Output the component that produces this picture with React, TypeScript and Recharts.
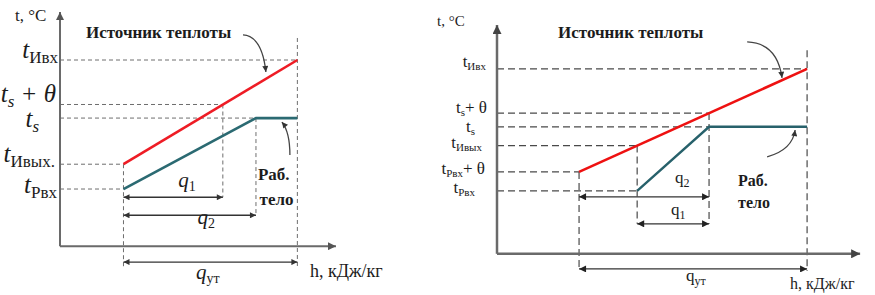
import React from "react";
import { ComposedChart, Line, XAxis, YAxis, ReferenceLine, ReferenceDot } from "recharts";

const SERIF = "Liberation Serif, DejaVu Serif, serif";
const INK = "#1c1c1c";

// left diagram: h and t in arbitrary units, axis length = 100
const leftSourceH = [23, 86];
const leftSourceT = [35, 79.5];
const leftBodyH = [23, 71, 86];
const leftBodyT = [24.4, 54.7, 54.7];
const leftTicks = [79.5, 60.5, 54.7, 35, 24.4];
const leftTickLabels = [
  ["t", "Ивх", ""],
  ["t", "s", " + θ"],
  ["t", "s", ""],
  ["t", "Ивых.", ""],
  ["t", "Рвх", ""],
];
const leftQ1 = [23, 59];
const leftQ2 = [23, 71];
const leftQut = [23, 86];
const leftQLevels = [20.9, 13.2, -6.8];

// right diagram
const rightSourceH = [22.6, 85.4];
const rightSourceT = [35.8, 80.8];
const rightBodyH = [38.6, 58.4, 85.4];
const rightBodyT = [27.5, 55.5, 55.5];
const rightTicks = [80.8, 61.5, 55.5, 47.3, 35.8, 27.5];
const rightTickLabels = [
  ["t", "Ивх", ""],
  ["t", "s", "+ θ"],
  ["t", "s", ""],
  ["t", "Ивых", ""],
  ["t", "Рвх", "+ θ"],
  ["t", "Рвх", ""],
];
const rightQ2 = [22.6, 58.4];
const rightQ1 = [38.6, 58.4];
const rightQut = [22.6, 85.4];
const rightQLevels = [24.9, 13.1, -6.6];

const toPts = (hs: number[], ts: number[]) => hs.map((h, i) => ({ h, t: ts[i] }));

const leftTickNudge = [[-2, -2], [-4, -2], [-21, 9], [-5, -2], [-3, 4]];
const rightTickNudge = [[-11, -2], [-10, 0], [-22, 5], [-15, 2], [-12, 2], [-22, 2]];

const serif = (size: number, italic = false, bold = false) => ({
  fontFamily: SERIF,
  fontSize: size,
  fontStyle: italic ? "italic" : "normal",
  fontWeight: bold ? 700 : 400,
});

const makeTick = (ticks: number[], labels: string[][], nudge: number[][], big: number, small: number, italic: boolean, shift: number) =>
  (props: any) => {
    const i = ticks.indexOf(props.payload.value);
    if (i < 0) return null;
    const [main, sub, tail] = labels[i];
    const [dx, dy] = nudge[i];
    return (
      <text x={props.x + dx} y={props.y + dy} textAnchor="end" fill={INK} style={serif(big, italic)}>
        <tspan style={serif(big, italic)}>{main}</tspan>
        <tspan dy={shift} style={serif(small, italic && sub === "s")}>{sub}</tspan>
        {tail ? <tspan dy={-shift} style={serif(big, italic)}>{tail}</tspan> : null}
      </text>
    );
  };

const note = (key: string, x: number, y: number, draw: (cx: number, cy: number) => any) => (
  <ReferenceDot key={key} x={x} y={y} r={0} ifOverflow="visible" shape={(p: any) => draw(p.cx, p.cy)} />
);

const seg = (key: string, x1: number, y1: number, x2: number, y2: number, draw: (p: any) => any) => (
  <ReferenceLine key={key} segment={[{ x: x1, y: y1 }, { x: x2, y: y2 }]} ifOverflow="visible" shape={draw} />
);

const dashed = (key: string, x1: number, y1: number, x2: number, y2: number, color: string, dash: string, w: number) =>
  seg(key, x1, y1, x2, y2, (p: any) => (
    <line x1={p.x1} y1={p.y1} x2={p.x2} y2={p.y2} stroke={color} strokeWidth={w} strokeDasharray={dash} />
  ));

const dim = (key: string, x1: number, x2: number, y: number, color: string, marker: string) =>
  seg(key, x1, y, x2, y, (p: any) => (
    <line x1={p.x1} y1={p.y1} x2={p.x2} y2={p.y2} stroke={color} strokeWidth={1.3}
      markerStart={`url(#${marker})`} markerEnd={`url(#${marker})`} />
  ));

const axisArrow = (key: string, x2: number, y2: number, color: string, w: number, marker: string) =>
  seg(key, 0, 0, x2, y2, (p: any) => (
    <line x1={p.x1} y1={p.y1} x2={p.x2} y2={p.y2} stroke={color} strokeWidth={w} markerEnd={`url(#${marker})`} />
  ));

const curve = (key: string, x1: number, y1: number, x2: number, y2: number, kx: number, ky: number) =>
  seg(key, x1, y1, x2, y2, (p: any) => {
    const cx = p.x1 + kx * (p.x2 - p.x1);
    const cy = p.y1 + ky * (p.y2 - p.y1);
    return (
      <path d={`M${p.x1},${p.y1} Q${cx},${cy} ${p.x2},${p.y2}`} fill="none" stroke="#444" strokeWidth={1.3}
        markerEnd="url(#ahCurve)" />
    );
  });

const plain = (text: string, size: number, bold = false) => (cx: number, cy: number) => (
  <text x={cx} y={cy} fill={INK} style={serif(size, false, bold)}>
    {text}
  </text>
);

const qLabel = (sub: string, big: number, small: number, italic: boolean) => (cx: number, cy: number) => (
  <text x={cx} y={cy} textAnchor="middle" fill={INK} style={serif(big, italic)}>
    <tspan style={serif(big, italic)}>q</tspan>
    <tspan dy={4} style={serif(small)}>{sub}</tspan>
  </text>
);

function LeftDiagram() {
  const red = "#ee1c25";
  const teal = "#2b6a72";
  const guide = "#6e6e6e";
  const dash = "4 3";
  const [tIn, tsTheta, ts, tOut, tP] = leftTicks;
  return (
    <ComposedChart width={405} height={295} margin={{ top: 12, right: 0, bottom: 2, left: 0 }}>
      <XAxis type="number" dataKey="h" domain={[0, 125]} hide allowDataOverflow />
      <YAxis type="number" domain={[-20, 100]} ticks={leftTicks} interval={0} width={60} axisLine={false}
        tickLine={false} tickSize={0} tickMargin={0} allowDataOverflow
        tick={makeTick(leftTicks, leftTickLabels, leftTickNudge, 25, 17, true, 5)} />
      {dashed("g1", 0, tIn, leftSourceH[1], tIn, guide, dash, 1)}
      {dashed("g2", 0, tsTheta, leftQ1[1], tsTheta, guide, dash, 1)}
      {dashed("g3", 0, ts, leftBodyH[1], ts, guide, dash, 1)}
      {dashed("g4", 0, tOut, leftSourceH[0], tOut, guide, dash, 1)}
      {dashed("g5", 0, tP, leftBodyH[0], tP, guide, dash, 1)}
      {dashed("v1", leftSourceH[0], tOut, leftSourceH[0], -9.4, guide, dash, 1)}
      {dashed("v2", leftQ1[1], tsTheta, leftQ1[1], leftQLevels[0], guide, dash, 1)}
      {dashed("v3", leftQ2[1], ts, leftQ2[1], leftQLevels[1], guide, dash, 1)}
      {dashed("v4", leftSourceH[1], 88.9, leftSourceH[1], -9.4, guide, dash, 1)}
      {axisArrow("ax", 100, 0, "#6a6a6a", 2, "ahAxisL")}
      {axisArrow("ay", 0, 100, "#6a6a6a", 2, "ahAxisL")}
      {dim("q1", leftQ1[0], leftQ1[1], leftQLevels[0], "#333", "ahDimL")}
      {dim("q2", leftQ2[0], leftQ2[1], leftQLevels[1], "#333", "ahDimL")}
      {dim("qut", leftQut[0], leftQut[1], leftQLevels[2], "#333", "ahDimL")}
      <Line data={toPts(leftSourceH, leftSourceT)} dataKey="t" stroke={red} strokeWidth={2.6} dot={false}
        activeDot={false} isAnimationActive={false} />
      <Line data={toPts(leftBodyH, leftBodyT)} dataKey="t" stroke={teal} strokeWidth={2.6} dot={false}
        activeDot={false} isAnimationActive={false} />
      {curve("c1", 66.3, 90.2, 74.6, 74.4, 0.83, 0.03)}
      {curve("c2", 83.3, 38.9, 80.4, 53, 0, 0.7)}
      {note("tC", -16.3, 96.2, plain("t, °C", 17))}
      {note("src", 9.4, 88.9, plain("Источник теплоты", 17, true))}
      {note("rab", 71.7, 28.2, plain("Раб.", 17, true))}
      {note("telo", 72.3, 17.6, plain("тело", 17, true))}
      {note("lq1", 46, 25.2, qLabel("1", 21, 14, true))}
      {note("lq2", 53, 9.4, qLabel("2", 21, 14, true))}
      {note("lqut", 53.6, -14, qLabel("ут", 21, 14, true))}
      {note("hx", 90.6, -13.2, plain("h, кДж/кг", 18))}
    </ComposedChart>
  );
}

function RightDiagram() {
  const red = "#ee1111";
  const teal = "#27616b";
  const guide = "#4a4a4a";
  const dash = "7 4";
  const [tIn, tsTheta, ts, tOut, tPTheta, tP] = rightTicks;
  return (
    <ComposedChart width={444} height={295} margin={{ top: 25, right: 0, bottom: 0, left: 0 }}>
      <XAxis type="number" dataKey="h" domain={[0, 103]} hide allowDataOverflow />
      <YAxis type="number" domain={[-18, 100]} ticks={rightTicks} interval={0} width={70} axisLine={false}
        tickLine={false} tickSize={0} tickMargin={0} allowDataOverflow
        tick={makeTick(rightTicks, rightTickLabels, rightTickNudge, 17, 11, false, 3)} />
      {dashed("g1", 0, tIn, rightSourceH[1], tIn, guide, dash, 1.2)}
      {dashed("g2", 0, tsTheta, rightBodyH[1], tsTheta, guide, dash, 1.2)}
      {dashed("g3", 0, ts, rightBodyH[1], ts, guide, dash, 1.2)}
      {dashed("g4", 0, tOut, rightBodyH[0], tOut, guide, dash, 1.2)}
      {dashed("g5", 0, tPTheta, rightSourceH[0], tPTheta, guide, dash, 1.2)}
      {dashed("g6", 0, tP, rightBodyH[0], tP, guide, dash, 1.2)}
      {dashed("v1", rightSourceH[0], tPTheta, rightSourceH[0], -7.5, guide, dash, 1.2)}
      {dashed("v2", rightBodyH[0], tOut, rightBodyH[0], rightQLevels[1], guide, dash, 1.2)}
      {dashed("v3", rightBodyH[1], tsTheta, rightBodyH[1], rightQLevels[1], guide, dash, 1.2)}
      {dashed("v4", rightSourceH[1], 89, rightSourceH[1], -7.5, guide, dash, 1.2)}
      {axisArrow("ax", 100, 0, "#6a6a6a", 2.5, "ahAxisR")}
      {axisArrow("ay", 0, 100, "#6a6a6a", 2.5, "ahAxisR")}
      {dim("q2", rightQ2[0], rightQ2[1], rightQLevels[0], "#333", "ahDimR")}
      {dim("q1", rightQ1[0], rightQ1[1], rightQLevels[1], "#333", "ahDimR")}
      {dim("qut", rightQut[0], rightQut[1], rightQLevels[2], "#333", "ahDimR")}
      <Line data={toPts(rightSourceH, rightSourceT)} dataKey="t" stroke={red} strokeWidth={2.6} dot={false}
        activeDot={false} isAnimationActive={false} />
      <Line data={toPts(rightBodyH, rightBodyT)} dataKey="t" stroke={teal} strokeWidth={2.4} dot={false}
        activeDot={false} isAnimationActive={false} />
      {curve("c1", 68.9, 92.6, 78.5, 76.9, 0.86, 0.03)}
      {curve("c2", 74.4, 42.4, 82.1, 54.1, 0.9, 0.25)}
      {note("tC", -16.5, 99.6, plain("t, °C", 15))}
      {note("src", 16.8, 94.3, plain("Источник теплоты", 17, true))}
      {note("rab", 66.4, 29.7, plain("Раб.", 16, true))}
      {note("telo", 66.4, 20.1, plain("тело", 16, true))}
      {note("rq2", 51, 31, qLabel("2", 17, 12, false))}
      {note("rq1", 49.9, 17, qLabel("1", 17, 12, false))}
      {note("rqut", 54.8, -11.8, qLabel("ут", 17, 12, false))}
      {note("hx", 80.7, -15.3, plain("h, кДж/кг", 16))}
    </ComposedChart>
  );
}

function Markers() {
  const head = (id: string, color: string, w: number, h: number) => (
    <marker id={id} viewBox="0 0 10 10" refX={10} refY={5} markerWidth={w} markerHeight={h}
      markerUnits="userSpaceOnUse" orient="auto-start-reverse">
      <path d="M0,0 L10,5 L0,10 z" fill={color} />
    </marker>
  );
  return (
    <svg width={0} height={0} style={{ position: "absolute" }}>
      <defs>
        {head("ahAxisL", "#555", 10, 8)}
        {head("ahAxisR", "#444", 12, 9)}
        {head("ahDimL", "#333", 8, 6)}
        {head("ahDimR", "#222", 8, 7)}
        {head("ahCurve", "#333", 7, 6)}
      </defs>
    </svg>
  );
}

export default function App() {
  return (
    <div style={{ position: "absolute", left: 0, top: 0, width: 875, height: 295, background: "#fff", fontFamily: SERIF }}>
      <Markers />
      <div style={{ position: "absolute", left: 0, top: 0 }}>
        <LeftDiagram />
      </div>
      <div style={{ position: "absolute", left: 427, top: 0 }}>
        <RightDiagram />
      </div>
    </div>
  );
}
